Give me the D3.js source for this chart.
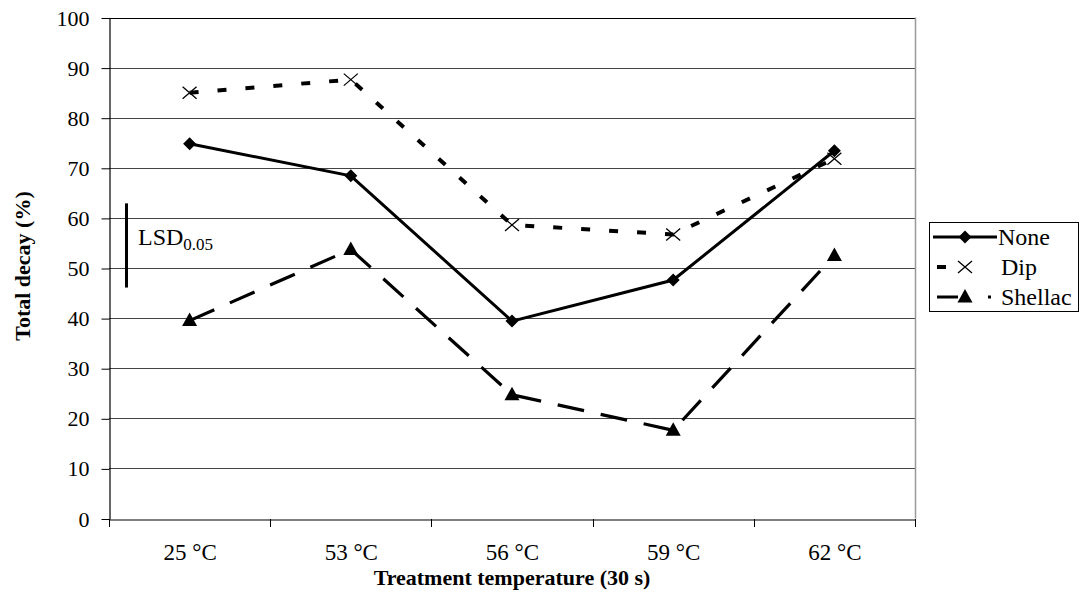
<!DOCTYPE html>
<html><head><meta charset="utf-8">
<script src="https://cdn.jsdelivr.net/npm/d3@7/dist/d3.min.js"></script>
<style>
body{margin:0;background:#fff;}
svg{display:block;font-family:"Liberation Serif","Times New Roman",serif;}
</style></head>
<body>
<script>
const categories = ["25 °C","53 °C","56 °C","59 °C","62 °C"];
const noneValues = [74.8, 68.4, 39.4, 47.6, 73.4];
const dipValues = [85.0, 87.6, 58.6, 56.7, 71.8];
const shellacValues = [39.5, 53.7, 24.7, 17.6, 52.5];
const yTicks = [0,10,20,30,40,50,60,70,80,90,100];
const lsdRange = [46.1, 62.9];
const seriesNames = ["None","Dip","Shellac"];

const W = 1081, H = 605;
const L = 109, R = 915, T = 17.5, B = 518.5;
const FONT = "'Liberation Serif', 'Times New Roman', serif";
const svg = d3.select("body").append("svg").attr("width",W).attr("height",H);

const x = d3.scaleBand().domain(categories).range([L,R]).paddingInner(0).paddingOuter(0);
const y = d3.scaleLinear().domain([0,100]).range([B,T]);

// gridlines
svg.append("g").selectAll("line").data(yTicks.filter(d=>d>0)).join("line")
  .attr("x1",L).attr("x2",R).attr("y1",d=>Math.round(y(d))+0.5).attr("y2",d=>Math.round(y(d))+0.5)
  .attr("stroke",d=>d===100?"#000":"#444").attr("stroke-width",1);
// right border
svg.append("line").attr("x1",R+0.5).attr("x2",R+0.5).attr("y1",T).attr("y2",B)
  .attr("stroke","#999").attr("stroke-width",1.5);

// y axis
const yAxis = svg.append("g").attr("transform",`translate(${L+0.5},0.5)`)
  .call(d3.axisLeft(y).tickValues(yTicks).tickSize(8).tickSizeOuter(0).tickPadding(12));
yAxis.attr("font-family",null).attr("font-size",null).style("font-family",FONT).style("font-size","22px");
yAxis.select(".domain").attr("stroke","#000").attr("stroke-width",1.2);
yAxis.selectAll("text").attr("fill","#000");

// x axis
const xAxis = svg.append("g").attr("transform",`translate(0.5,${Math.round(B)+0.5})`)
  .call(d3.axisBottom(x).tickSize(0).tickPadding(24));
xAxis.attr("font-family",null).attr("font-size",null).style("font-family",FONT).style("font-size","23px");
xAxis.select(".domain").attr("stroke","#000").attr("stroke-width",1.2);
xAxis.selectAll("text").attr("fill","#000");
// category boundary ticks
const bounds = categories.map(c=>x(c)).concat([R]);
svg.append("g").selectAll("line").data(bounds).join("line")
  .attr("x1",d=>Math.round(d)+0.5).attr("x2",d=>Math.round(d)+0.5)
  .attr("y1",Math.round(B)).attr("y2",Math.round(B)+8)
  .attr("stroke","#000").attr("stroke-width",1);

const cx = c => x(c) + x.bandwidth()/2;
const lineGen = vals => d3.line().x((d,i)=>cx(categories[i])).y(d=>y(d))(vals);

const styles = {
  None:{vals:noneValues, dash:null, width:3, legend:[933,997,null]},
  Dip:{vals:dipValues, dash:"9,19", width:4, legend:[937,993,"9,100"]},
  Shellac:{vals:shellacValues, dash:"27,17", width:3.2, legend:[937,991,"21,30,3,10"]}
};

function marker(g, name, px, py){
  if(name==="None"){
    g.append("path").attr("d",`M${px},${py-6.5}L${px+6.5},${py}L${px},${py+6.5}L${px-6.5},${py}Z`).attr("fill","#000");
  } else if(name==="Dip"){
    g.append("path").attr("d",`M${px-7},${py-6}L${px+7},${py+6}M${px-7},${py+6}L${px+7},${py-6}`)
      .attr("stroke","#000").attr("stroke-width",1.3).attr("fill","none");
  } else {
    g.append("path").attr("d",`M${px},${py-8}L${px+7.5},${py+5.5}L${px-7.5},${py+5.5}Z`).attr("fill","#000");
  }
}

const plot = svg.append("g");
seriesNames.forEach(name=>{
  const s = styles[name];
  plot.append("path").attr("d",lineGen(s.vals)).attr("fill","none").attr("stroke","#000")
    .attr("stroke-width",s.width).attr("stroke-dasharray",s.dash).attr("stroke-linejoin","miter");
});
seriesNames.forEach(name=>{
  const s = styles[name];
  const g = plot.append("g");
  s.vals.forEach((v,i)=>marker(g,name,cx(categories[i]),y(v)));
});

// LSD bar
svg.append("line").attr("x1",126.5).attr("x2",126.5).attr("y1",y(lsdRange[1])).attr("y2",y(lsdRange[0]))
  .attr("stroke","#000").attr("stroke-width",3);
const lsd = svg.append("text").attr("x",138).attr("y",245).style("font-size","24px").attr("fill","#000")
  .style("font-family",FONT);
lsd.append("tspan").text("LSD");
lsd.append("tspan").style("font-size","17px").attr("dy",5).text("0.05");

// legend
const lg = svg.append("g").style("font-family",FONT);
lg.append("rect").attr("x",929.5).attr("y",222.5).attr("width",149).attr("height",89)
  .attr("fill","#fff").attr("stroke","#000").attr("stroke-width",1);
seriesNames.forEach((name,i)=>{
  const s = styles[name];
  const ly = 237 + i*30;
  const ll = s.legend;
  lg.append("line").attr("x1",ll[0]).attr("x2",ll[1]).attr("y1",ly).attr("y2",ly)
    .attr("stroke","#000").attr("stroke-width",s.width).attr("stroke-dasharray",ll[2]);
  marker(lg,name,965,ly);
  lg.append("text").attr("x",name==="None"?998:1001).attr("y",ly+8).style("font-size","24px").attr("fill","#000").text(name);
});

// axis titles
svg.append("text").attr("x",512).attr("y",585).attr("text-anchor","middle").style("font-family",FONT)
  .style("font-size","22px").style("font-weight","bold").attr("fill","#000").text("Treatment temperature (30 s)");
svg.append("text").attr("transform",`translate(30,266) rotate(-90)`).attr("text-anchor","middle").style("font-family",FONT)
  .style("font-size","22px").style("font-weight","bold").attr("fill","#000").text("Total decay (%)");
</script>
</body></html>
